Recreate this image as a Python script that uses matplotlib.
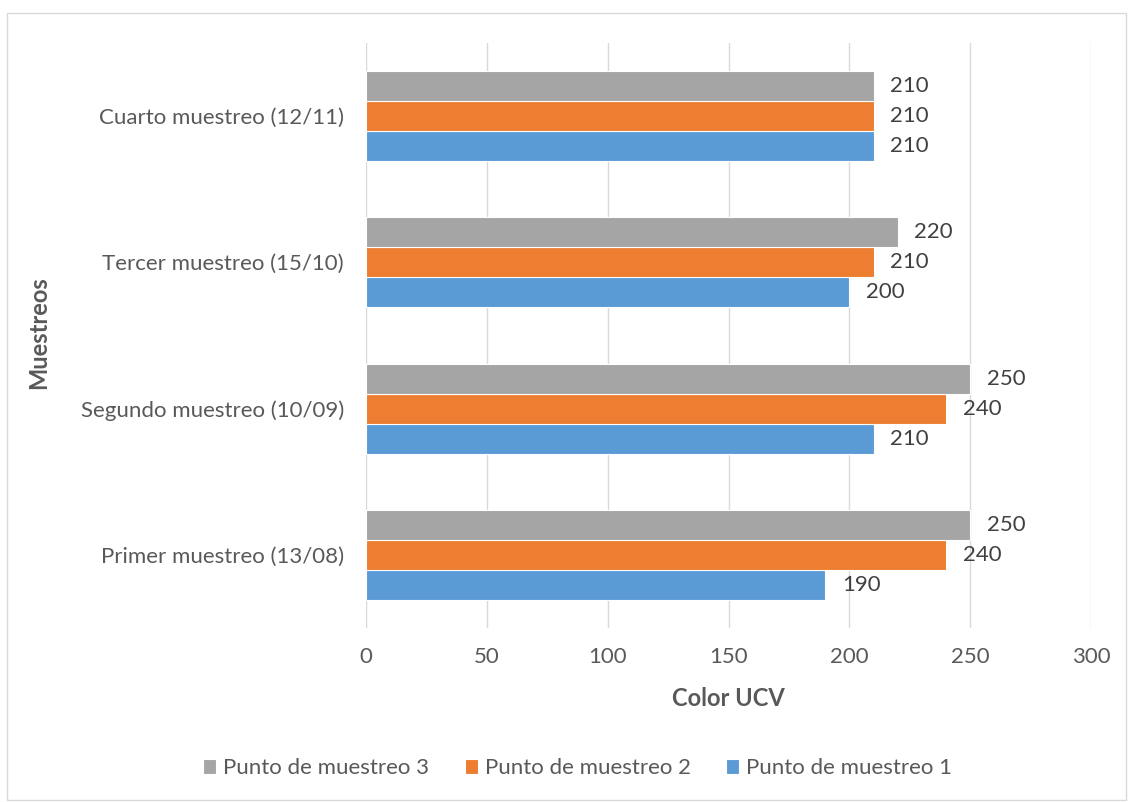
import matplotlib

matplotlib.use("Agg")
import matplotlib.pyplot as plt
import numpy as np
from matplotlib.patches import Rectangle

plt.rcParams["font.family"] = ["Lato", "DejaVu Sans"]

categories = ["Primer muestreo (13/08)", "Segundo muestreo (10/09)",
              "Tercer muestreo (15/10)", "Cuarto muestreo (12/11)"]
series_names = ["Punto de muestreo 1", "Punto de muestreo 2", "Punto de muestreo 3"]
punto1 = [190, 210, 200, 210]
punto2 = [240, 240, 210, 210]
punto3 = [250, 250, 220, 210]
colors = ["#5b9bd5", "#ed7d31", "#a5a5a5"]

fig = plt.figure(figsize=(11.28, 8.02), dpi=100)
ax = fig.add_axes([0.3245, 0.217, 0.6427, 0.7294])

y = np.arange(len(categories))
h = 0.205
handles = []
for i, (vals, name, c) in enumerate(zip([punto1, punto2, punto3], series_names, colors)):
    pos = y + (i - 1) * h
    bars = ax.barh(pos, vals, height=h, color=c, edgecolor="white", linewidth=0.8, label=name)
    handles.append(bars)
    for p, v in zip(pos, vals):
        ax.annotate(str(v), (v, p), xytext=(12, 0), textcoords="offset points",
                    va="center", ha="left", fontsize=16, color="#404040")

ax.set_xlim(0, 300)
ax.set_ylim(-0.5, len(categories) - 0.5)
ax.set_xticks(np.arange(0, 301, 50))
ax.set_yticks(y)
ax.set_yticklabels(categories)
ax.tick_params(axis="both", length=0, labelsize=16, labelcolor="#595959")
ax.tick_params(axis="x", pad=14)
ax.tick_params(axis="y", pad=16)
ax.xaxis.grid(True, color="#d9d9d9", linewidth=1)
ax.set_axisbelow(True)
for s in ax.spines.values():
    s.set_visible(False)

ax.set_xlabel("Color UCV", fontsize=17, fontweight="bold", color="#595959", labelpad=14)
fig.text(0.034, 0.585, "Muestreos", rotation=90, fontsize=17, fontweight="bold",
         color="#595959", ha="center", va="center")

fig.legend(handles[::-1], series_names[::-1], loc="center", bbox_to_anchor=(0.512, 0.042),
           ncol=3, frameon=False, fontsize=16, labelcolor="#595959",
           handlelength=0.6, handleheight=0.6, handletextpad=0.3, columnspacing=1.6)

fig.patches.append(Rectangle((0.006, 0.002), 0.992, 0.982, transform=fig.transFigure,
                             fill=False, edgecolor="#d9d9d9", linewidth=1))

fig.savefig("out.png", dpi=100)
